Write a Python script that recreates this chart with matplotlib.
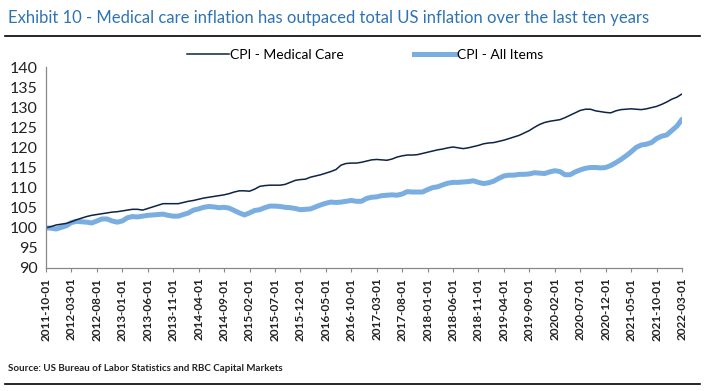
import matplotlib.pyplot as plt
import matplotlib.lines as mlines

# monthly index values, 2011-10 = 100
months = ["2011-10", "2011-11", "2011-12",
          "2012-01", "2012-02", "2012-03", "2012-04", "2012-05", "2012-06",
          "2012-07", "2012-08", "2012-09", "2012-10", "2012-11", "2012-12"]
for yr in range(2013, 2022):
    for mo in range(1, 13):
        months.append(f"{yr}-{mo:02d}")
months += ["2022-01", "2022-02", "2022-03"]

medical_care = [
    100.0, 100.3, 100.7,
    100.9, 101.1, 101.5, 102.0, 102.4, 102.8, 103.1, 103.3, 103.5, 103.7, 103.9, 104.0,
    104.2, 104.4, 104.6, 104.6, 104.4, 104.8, 105.2, 105.6, 106.0, 106.0, 106.0, 106.0,
    106.3, 106.6, 106.8, 107.1, 107.4, 107.6, 107.8, 108.0, 108.2, 108.5, 108.9, 109.2,
    109.2, 109.1, 109.6, 110.3, 110.5, 110.6, 110.6, 110.6, 110.8, 111.3, 111.8, 112.0,
    112.1, 112.6, 112.9, 113.2, 113.6, 114.0, 114.5, 115.6, 116.0, 116.1, 116.1, 116.3,
    116.6, 116.9, 117.0, 116.9, 116.8, 117.1, 117.6, 117.9, 118.1, 118.1, 118.2, 118.5,
    118.8, 119.1, 119.4, 119.6, 119.9, 120.1, 119.9, 119.7, 119.9, 120.2, 120.5, 120.9,
    121.1, 121.2, 121.5, 121.8, 122.2, 122.6, 123.0, 123.6, 124.2, 125.0, 125.7, 126.2,
    126.5, 126.7, 126.9, 127.4, 128.0, 128.6, 129.2, 129.5, 129.5, 129.1, 128.9, 128.7,
    128.6, 129.1, 129.4, 129.5, 129.6, 129.5, 129.4, 129.6, 129.9, 130.2, 130.7, 131.3,
    132.0, 132.5, 133.3,
]

all_items = [
    100.0, 99.9, 99.7,
    100.1, 100.5, 101.3, 101.6, 101.5, 101.4, 101.2, 101.7, 102.2, 102.2, 101.7, 101.4,
    101.7, 102.5, 102.8, 102.7, 102.9, 103.1, 103.2, 103.3, 103.4, 103.1, 102.9, 102.9,
    103.3, 103.7, 104.4, 104.7, 105.1, 105.3, 105.2, 105.0, 105.1, 104.9, 104.3, 103.7,
    103.2, 103.7, 104.3, 104.5, 105.0, 105.4, 105.4, 105.3, 105.1, 105.0, 104.8, 104.5,
    104.6, 104.7, 105.2, 105.7, 106.1, 106.4, 106.3, 106.4, 106.6, 106.8, 106.6, 106.6,
    107.3, 107.6, 107.7, 108.0, 108.1, 108.2, 108.1, 108.4, 109.0, 108.9, 108.9, 108.9,
    109.5, 110.0, 110.2, 110.7, 111.1, 111.3, 111.3, 111.4, 111.5, 111.7, 111.3, 111.0,
    111.2, 111.6, 112.3, 112.9, 113.1, 113.1, 113.3, 113.3, 113.4, 113.7, 113.6, 113.5,
    113.9, 114.2, 114.0, 113.2, 113.2, 113.9, 114.4, 114.8, 115.0, 115.0, 114.9, 115.0,
    115.5, 116.2, 117.0, 117.9, 118.9, 120.0, 120.6, 120.8, 121.2, 122.2, 122.8, 123.1,
    124.2, 125.3, 127.0,
]

tick_step = 5
tick_labels = [m + "-01" for m in months[::tick_step]]

plt.rcParams['font.family'] = ['Lato', 'DejaVu Sans']

fig = plt.figure(figsize=(7.05, 3.91), dpi=100)
ax = fig.add_axes([0.0652, 0.3146, 0.9022, 0.514])

x = list(range(len(months)))
ax.plot(x, all_items, color='#7aaee0', lw=3.6, solid_capstyle='round', label='CPI - All Items')
ax.plot(x, medical_care, color='#0f2344', lw=1.1, label='CPI - Medical Care')

ax.set_xlim(0, len(months) - 1)
ax.set_ylim(90, 140)
ax.set_yticks(range(90, 141, 5))
ax.set_xticks(x[::tick_step])
ax.set_xticklabels(tick_labels, rotation=90, fontsize=8.5, fontweight='bold', color='#222222')
for lab in ax.get_yticklabels():
    lab.set_fontsize(11.5)
    lab.set_color('#222222')
ax.tick_params(axis='y', length=0, pad=6)
ax.tick_params(axis='x', length=3, color='#888888', pad=4)
for s in ['top', 'right']:
    ax.spines[s].set_visible(False)
for s in ['left', 'bottom']:
    ax.spines[s].set_color('#888888')
    ax.spines[s].set_linewidth(0.9)

# legend: medical first, then all items
h_med = mlines.Line2D([], [], color='#0f2344', lw=1.1)
h_all = mlines.Line2D([], [], color='#7aaee0', lw=3.6)
fig.legend([h_med, h_all], ['CPI - Medical Care', 'CPI - All Items'], loc='center',
           bbox_to_anchor=(0.518, 0.859), ncol=2, frameon=False, fontsize=10,
           handlelength=3.0, handletextpad=0.1, columnspacing=5.0)

fig.text(0.011, 0.955, 'Exhibit 10 - Medical care inflation has outpaced total US inflation over the last ten years',
         fontsize=12, color='#2e74b5', va='center', ha='left')
fig.add_artist(mlines.Line2D([0.007, 0.993], [0.908, 0.908], color='black', lw=1.2))
fig.text(0.011, 0.058, 'Source: US Bureau of Labor Statistics and RBC Capital Markets',
         fontsize=7, fontweight='bold', color='#222222', va='center', ha='left')
fig.add_artist(mlines.Line2D([0.007, 0.993], [0.018, 0.018], color='black', lw=1.2))

fig.savefig('out.png', dpi=100)
